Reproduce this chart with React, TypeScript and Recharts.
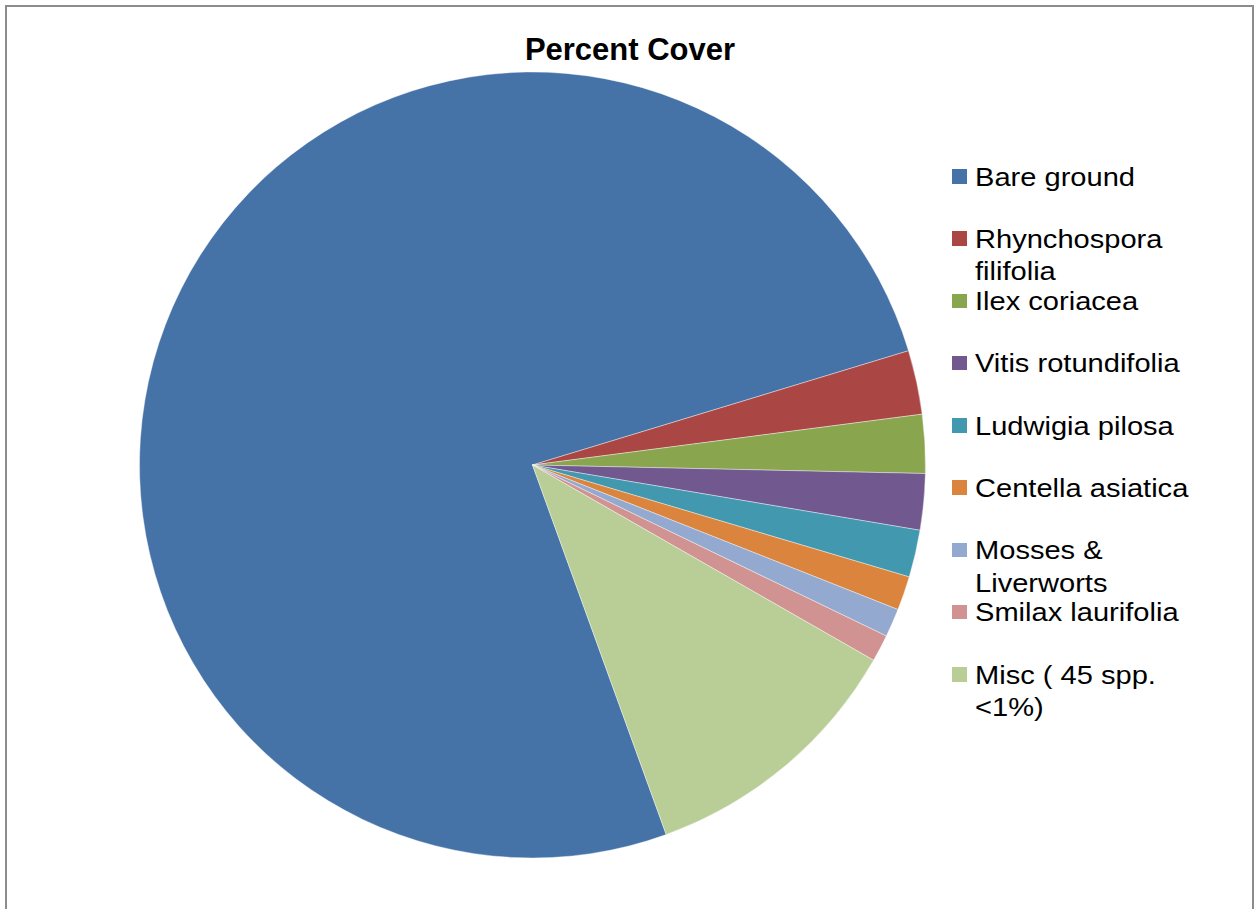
import React from 'react';
import { PieChart, Pie, Cell, Legend } from 'recharts';

// Species cover categories, in drawing order (clockwise)
const species = [
  'Bare ground',
  'Rhynchospora filifolia',
  'Ilex coriacea',
  'Vitis rotundifolia',
  'Ludwigia pilosa',
  'Centella asiatica',
  'Mosses & Liverworts',
  'Smilax laurifolia',
  'Misc ( 45 spp. <1%)',
];

// Percent cover per category
const cover = [75.83, 2.63, 2.41, 2.31, 1.94, 1.4, 1.17, 1.11, 11.2];

const palette = [
  '#4572A7',
  '#AA4643',
  '#89A54E',
  '#71588F',
  '#4198AF',
  '#DB843D',
  '#93A9CF',
  '#D19392',
  '#B9CD96',
];

const data = species.map((name, i) => ({ name, value: cover[i] }));

const W = 1256;
const H = 909;
const FIRST_ANGLE = -70.11;

const legendFont = '"Liberation Sans", Arial, sans-serif';

// Keep legend entries in series order
const renderLegend = (props: any) => {
  const payload = [...(props.payload || [])].sort(
    (a: any, b: any) => species.indexOf(a.value) - species.indexOf(b.value)
  );
  return (
    <div style={{ position: 'relative', width: W, height: H }}>
      {payload.map((entry: any, i: number) => (
        <div
          key={entry.value}
          style={{ position: 'absolute', left: 952, top: 169 + 62.25 * i }}
        >
          <div
            style={{
              position: 'absolute',
              left: 0,
              top: 0,
              width: 14.5,
              height: 14.5,
              background: entry.color,
            }}
          />
          <div
            style={{
              position: 'absolute',
              left: 23,
              top: -8.4,
              width: 200,
              fontFamily: legendFont,
              fontSize: 25.5,
              lineHeight: '32.5px',
              color: '#000',
              whiteSpace: 'normal',
              transform: 'scaleX(1.14)',
              transformOrigin: '0 0',
              textAlign: 'left',
            }}
          >
            {entry.value}
          </div>
        </div>
      ))}
    </div>
  );
};

export default function App() {
  return (
    <div
      style={{
        position: 'absolute',
        left: 0,
        top: 0,
        width: W,
        height: H,
        overflow: 'hidden',
        background: '#fff',
      }}
    >
      <div
        style={{
          position: 'absolute',
          left: 5,
          top: 5,
          width: 1245,
          height: 940,
          border: '2px solid #8c8c8c',
        }}
      />
      <div
        style={{
          position: 'absolute',
          left: 430,
          width: 400,
          top: 34,
          textAlign: 'center',
          fontFamily: legendFont,
          fontWeight: 'bold',
          fontSize: 31,
          lineHeight: '31px',
          color: '#000',
        }}
      >
        Percent Cover
      </div>
      <div style={{ position: 'absolute', left: 0, top: 0 }}>
        <PieChart
          width={W}
          height={H}
          margin={{ top: 0, right: 0, bottom: 0, left: 0 }}
        >
          <Pie
            data={data}
            dataKey="value"
            nameKey="name"
            cx={532.5}
            cy={465}
            outerRadius={393}
            startAngle={FIRST_ANGLE}
            endAngle={FIRST_ANGLE - 360}
            stroke="#ffffff"
            strokeWidth={0.4}
            isAnimationActive={false}
          >
            {data.map((d, i) => (
              <Cell key={d.name} fill={palette[i]} />
            ))}
          </Pie>
          <Legend
            layout="vertical"
            align="center"
            verticalAlign="middle"
            itemSorter={null as any}
            content={renderLegend}
            wrapperStyle={{ left: 0, top: 0, width: W, height: H }}
          />
        </PieChart>
      </div>
    </div>
  );
}
